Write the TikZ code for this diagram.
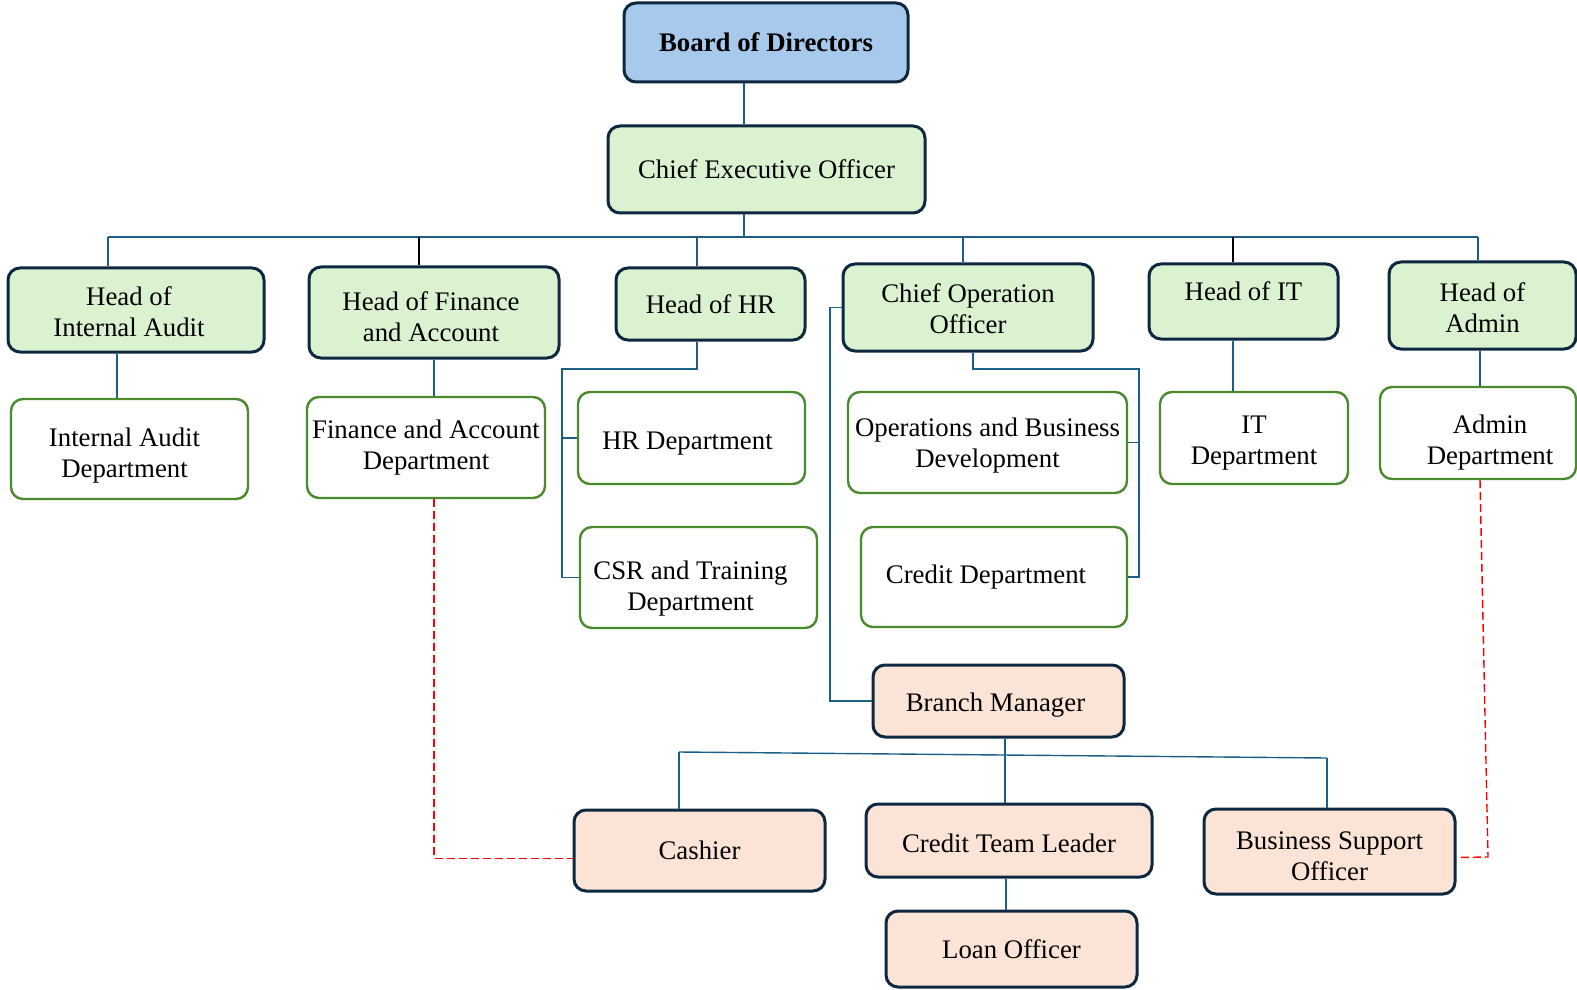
\documentclass[tikz,border=0pt]{standalone}
\usepackage{fontspec}
\setmainfont{Liberation Serif}
\usetikzlibrary{calc}

\definecolor{navy}{HTML}{0E2841}
\definecolor{conn}{HTML}{1C5F86}
\definecolor{boardblue}{HTML}{A6C9EC}
\definecolor{headgreen}{HTML}{DAF2D0}
\definecolor{deptgreen}{HTML}{4B8B2E}
\definecolor{staffpink}{HTML}{FBE3D6}

% taller first line, pushes the text down in its box
\newcommand\topstrut[1]{\rule{0pt}{#1}}

\begin{document}
\begin{tikzpicture}[x=0.5pt, y=-0.5pt,
  sz/.style 2 args={minimum width=#1*0.5pt, minimum height=#2*0.5pt},
  box/.style={rectangle, rounded corners=6pt, inner sep=0pt, align=center,
    font=\fontsize{13.4}{15.5}\selectfont},
  board/.style={box, draw=navy, line width=1.5pt, fill=boardblue, font=\fontsize{13.4}{15.5}\selectfont\bfseries},
  head/.style={box, draw=navy, line width=1.5pt, fill=headgreen},
  dept/.style={box, draw=deptgreen, line width=1.2pt, fill=white},
  staff/.style={box, draw=navy, line width=1.5pt, fill=staffpink},
  link/.style={conn, line width=0.7pt},
  blink/.style={black, line width=0.7pt},
  dotlink/.style={red, line width=0.7pt, dash pattern=on 4pt off 2pt}]

\useasboundingbox (0,0) rectangle (1577,989);

% top
\node[board, sz={284}{79}] (board) at (766,42.5) {Board of Directors};
\node[head, sz={317}{87}] (ceo) at (766.5,169.5) {Chief Executive Officer};

% heads
\node[head, sz={256}{84}] (headia) at (136,310) {\topstrut{11pt}Head of\hspace*{7pt}\\Internal Audit\hspace*{7pt}};
\node[head, sz={250}{91}] (headfin) at (434,312.5) {\topstrut{14pt}Head of Finance\hspace*{3pt}\\and Account\hspace*{3pt}};
\node[head, sz={189}{72}] (headhr) at (710.5,304) {Head of HR};
\node[head, sz={250}{87}] (coo) at (968,307.5) {\topstrut{11pt}Chief Operation\\Officer};
\node[head, sz={189}{75}] (headit) at (1243.5,301.5) {Head of IT\\[-5pt]\mbox{}};
\node[head, sz={187}{87}] (headadm) at (1482.5,305.5) {\topstrut{12pt}Head of\\Admin};

% departments
\node[dept, sz={237}{100}] (iadept) at (129.5,449) {\topstrut{16pt}Internal Audit\hspace*{5pt}\\Department\hspace*{5pt}};
\node[dept, sz={238}{101}] (findept) at (426,447.5) {Finance and Account\\Department};
\node[dept, sz={227}{92}] (hrdept) at (691.5,438) {\topstrut{14.2pt}HR Department\hspace*{4pt}};
\node[dept, sz={237}{101}] (csrdept) at (698.5,577.5) {\topstrut{20pt}CSR and Training\hspace*{8pt}\\Department\hspace*{8pt}};
\node[dept, sz={279}{101}] (opsdept) at (987.5,442.5) {\topstrut{12pt}Operations and Business\\Development};
\node[dept, sz={266}{100}] (crdept) at (994,577) {Credit Department\hspace*{8pt}};
\node[dept, sz={188}{92}] (itdept) at (1254,438) {\topstrut{14pt}IT\\Department};
\node[dept, sz={196}{92}] (admdept) at (1478,433) {\topstrut{19pt}\hspace*{12pt}Admin\\\hspace*{12pt}Department};

% branch
\node[staff, sz={251}{72}] (bm) at (998.5,701) {\topstrut{13.2pt}Branch Manager\hspace*{3pt}};
\node[staff, sz={251}{81}] (cashier) at (699.5,850.5) {Cashier};
\node[staff, sz={286}{73}] (ctl) at (1009,840.5) {\topstrut{12.2pt}Credit Team Leader};
\node[staff, sz={251}{85}] (bso) at (1329.5,851.5) {\topstrut{14pt}Business Support\\Officer};
\node[staff, sz={251}{76}] (loan) at (1011.5,949) {Loan Officer};

% bus under CEO
\coordinate (bus) at (744,237);
\draw[link] (744,0 |- board.south) -- (744,0 |- ceo.north);
\draw[link] (744,0 |- ceo.south) -- (bus);
\draw[link] (108,237) -- (1478,237);
\draw[link] (108,237) -- (108,0 |- headia.north);
\draw[blink] (419,237) -- (419,0 |- headfin.north);
\draw[link] (697,237) -- (697,0 |- headhr.north);
\draw[link] (963,237) -- (963,0 |- coo.north);
\draw[blink] (1233,237) -- (1233,0 |- headit.north);
\draw[link] (1478,237) -- (1478,0 |- headadm.north);

% heads to departments
\draw[link] (117,0 |- headia.south) -- (117,0 |- iadept.north);
\draw[link] (headfin.south) -- (headfin.south |- findept.north);
\draw[link] (1233,0 |- headit.south) -- (1233,0 |- itdept.north);
\draw[link] (1480,0 |- headadm.south) -- (1480,0 |- admdept.north);

\draw[link] (697,0 |- headhr.south) |- (562,369) |- (csrdept.west);
\draw[link] (562,0 |- hrdept.west) -- (hrdept.west);
\draw[link] (973,0 |- coo.south) |- (1139,369) |- (crdept.east);
\draw[link] (1139,0 |- opsdept.east) -- (opsdept.east);
\draw[link] (coo.west) -- (830,0 |- coo.west) |- (bm.west);

% branch lines
\draw[link] (1005,0 |- bm.south) -- (1005,752);
\draw[link] (679,752) -- (1327,758);
\draw[link] (679,752) -- (679,0 |- cashier.north);
\draw[link] (1327,758) -- (1327,0 |- bso.north);
\draw[link] (1005,752) -- (1005,0 |- ctl.north);
\draw[link] (1006,0 |- ctl.south) -- (1006,0 |- loan.north);

% dotted reporting
\draw[dotlink] (434,0 |- findept.south) |- ($(cashier.west)+(0,8)$);
\draw[dotlink] (1480,0 |- admdept.south) -- (1488,857) -- ($(bso.east)+(0,6)$);

\end{tikzpicture}
\end{document}
